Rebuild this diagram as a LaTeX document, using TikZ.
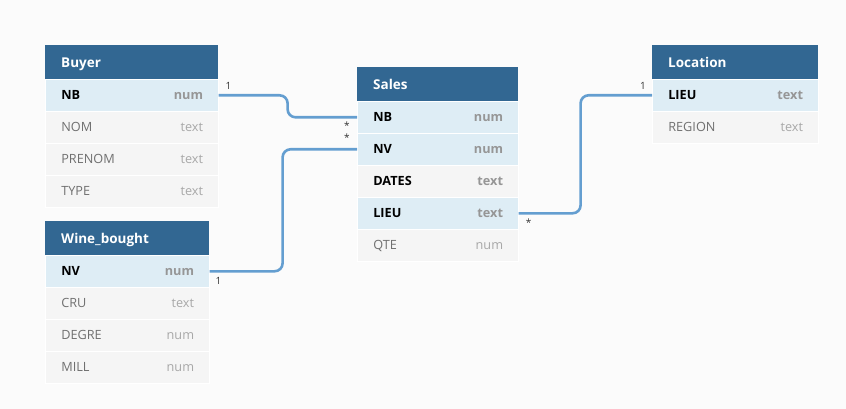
\documentclass[tikz,border=0pt]{standalone}
\usepackage{fontspec}
\setmainfont{Open Sans}
\usetikzlibrary{positioning}

\definecolor{cHead}{RGB}{50,103,146}
\definecolor{cKey}{RGB}{222,237,245}
\definecolor{cPlain}{RGB}{245,245,245}
\definecolor{cBg}{RGB}{251,251,251}
\definecolor{cRel}{RGB}{100,158,208}
\definecolor{cName}{RGB}{112,112,112}
\definecolor{cType}{RGB}{168,168,168}
\definecolor{cKeyType}{RGB}{150,150,150}

\begin{document}
\begin{tikzpicture}[x=1pt,y=-1pt]
  \tikzset{header/.style = {anchor=north west, fill=cHead, text=white, inner xsep=16pt, inner ysep=0pt,
      minimum height=34pt, text width=#1, align=left, text height=12pt, text depth=2pt,
      font=\fontsize{13.5}{16}\selectfont\bfseries}}
  \tikzset{row/.style = {anchor=north west, inner xsep=16pt, inner ysep=0pt, minimum height=32pt,
      text width=#1, align=left, text height=11pt, text depth=2pt, draw=white, line width=0.6pt}}
  \tikzset{keyname/.style = {fill=cKey, text=black, font=\fontsize{12.7}{15}\selectfont\bfseries}}
  \tikzset{boldname/.style = {fill=cPlain, text=black, font=\fontsize{12.7}{15}\selectfont\bfseries}}
  \tikzset{plainname/.style = {fill=cPlain, text=cName, font=\fontsize{12.7}{15}\selectfont}}
  \tikzset{keytype/.style = {anchor=east, text=cKeyType, text height=11pt, text depth=2pt,
      font=\fontsize{12.7}{15}\selectfont\bfseries}}
  \tikzset{boldtype/.style = {keytype}}
  \tikzset{plaintype/.style = {anchor=east, text=cType, text height=11pt, text depth=2pt,
      font=\fontsize{12.7}{15}\selectfont}}
  \tikzset{rel/.style = {draw=cRel, line width=2.6pt, rounded corners=8pt}}
  \tikzset{card/.style = {text=black!80, inner sep=0pt, font=\fontsize{10}{12}\selectfont}}

  \useasboundingbox (0,0) rectangle (846,409);
  \fill[cBg] (0,0) rectangle (846,409);

  % Buyer
  \node[header=141pt] (buyer) at (45,45) {Buyer};
  \foreach \n/\t/\s [count=\i] in {NB/num/key, NOM/text/plain, PRENOM/text/plain, TYPE/text/plain} {
    \node[row=141pt, \s name] (buyer-\i) at (45,{79+32*(\i-1)}) {\n};
    \node[\s type] at ([xshift=-12pt]buyer-\i.east) {\t};
  }

  % Wine_bought
  \node[header=132pt] (wine) at (45,221) {Wine\_bought};
  \foreach \n/\t/\s [count=\i] in {NV/num/key, CRU/text/plain, DEGRE/num/plain, MILL/num/plain} {
    \node[row=132pt, \s name] (wine-\i) at (45,{255+32*(\i-1)}) {\n};
    \node[\s type] at ([xshift=-12pt]wine-\i.east) {\t};
  }

  % Sales
  \node[header=129pt] (sales) at (357,67) {Sales};
  \foreach \n/\t/\s [count=\i] in {NB/num/key, NV/num/key, DATES/text/bold, LIEU/text/key, QTE/num/plain} {
    \node[row=129pt, \s name] (sales-\i) at (357,{101+32*(\i-1)}) {\n};
    \node[\s type] at ([xshift=-12pt]sales-\i.east) {\t};
  }

  % Location
  \node[header=134pt] (loc) at (652,45) {Location};
  \foreach \n/\t/\s [count=\i] in {LIEU/text/key, REGION/text/plain} {
    \node[row=134pt, \s name] (loc-\i) at (652,{79+32*(\i-1)}) {\n};
    \node[\s type] at ([xshift=-12pt]loc-\i.east) {\t};
  }

  % relations
  \draw[rel] (buyer-1.east) -- ++(69,0) |- (sales-1.west);
  \draw[rel] (wine-1.east) -- ++(73,0) |- (sales-2.west);
  \draw[rel] (sales-4.east) -- ++(62,0) |- (loc-1.west);

  \node[card] at ([xshift=10pt,yshift=9pt]buyer-1.east) {1};
  \node[card] at ([xshift=-10pt,yshift=-8pt]sales-1.west) {*};
  \node[card] at ([xshift=-10pt,yshift=12pt]sales-2.west) {*};
  \node[card] at ([xshift=9pt,yshift=-10pt]wine-1.east) {1};
  \node[card] at ([xshift=10pt,yshift=-9pt]sales-4.east) {*};
  \node[card] at ([xshift=-9pt,yshift=9pt]loc-1.west) {1};
\end{tikzpicture}
\end{document}
